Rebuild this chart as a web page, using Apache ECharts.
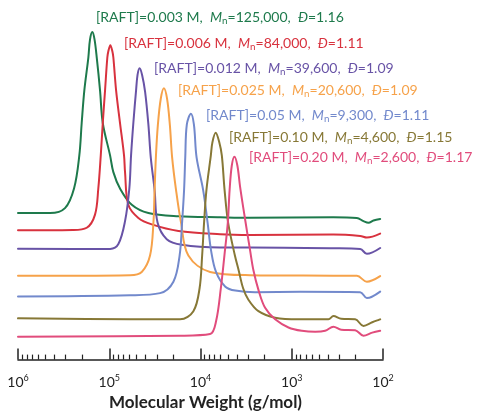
<!DOCTYPE html>
<html>
<head>
<meta charset="utf-8">
<script src="https://cdn.jsdelivr.net/npm/echarts@6/dist/echarts.min.js"></script>
<style>
html,body{margin:0;padding:0;background:#fff;}
#chart{width:477px;height:416px;}
</style>
</head>
<body>
<div id="chart"></div>
<script>
// x values: log10(Molecular Weight, g/mol); y values: detector signal incl. vertical offset
const logMW1 = [6.00, 5.649, 5.485, 5.386, 5.328, 5.302, 5.273, 5.229, 5.211, 5.185, 5.161, 5.137, 5.101, 5.071, 4.991, 4.955, 4.882, 4.753, 4.571, 4.242, 3.785, 3.456, 2.546, 2.286, 2.214, 2.159, 2.104, 2.031];
const signal1 = [149.3, 149.3, 154.3, 174.3, 208, 241, 274.3, 307.7, 326, 333.7, 326, 307.7, 274.3, 241, 208, 191, 174.3, 157.7, 149.3, 146, 145, 144.5, 145, 144.3, 141, 139.3, 141.7, 143.3];

const logMW2 = [6.00, 5.40, 5.247, 5.156, 5.120, 5.093, 5.071, 5.046, 5.021, 5.010, 4.988, 4.966, 4.955, 4.925, 4.882, 4.838, 4.827, 4.791, 4.681, 4.534, 4.242, 3.785, 3.456, 2.546, 2.250, 2.177, 2.031];
const signal2 = [131.7, 132, 134.3, 147.7, 174.3, 208, 241, 274.3, 307.7, 314, 320.3, 314, 307.7, 274.3, 241, 208, 191, 157.7, 144.3, 137.7, 131, 127.7, 127, 127.5, 126, 124.3, 128.3];

const logMW3 = [6.00, 4.991, 4.900, 4.827, 4.780, 4.761, 4.736, 4.706, 4.690, 4.668, 4.640, 4.607, 4.571, 4.545, 4.503, 4.470, 4.370, 4.205, 3.785, 3.456, 2.546, 2.250, 2.177, 2.031];
const signal3 = [113, 112.7, 117.7, 141, 174.3, 208, 241, 274.3, 290, 296.8, 290, 272.7, 239.3, 206, 172.7, 139.3, 122.7, 117, 114.3, 114.3, 113.5, 112.7, 107.7, 113.7];

const logMW4 = [6.00, 4.772, 4.644, 4.553, 4.516, 4.503, 4.489, 4.467, 4.435, 4.401, 4.367, 4.336, 4.311, 4.268, 4.213, 4.133, 3.895, 3.456, 2.546, 2.286, 2.177, 2.031];
const signal4 = [85.3, 86, 89.3, 106, 139.3, 172.7, 206, 239.3, 266, 276.5, 266, 239.3, 206, 172.7, 139.3, 106, 89.3, 86, 85.5, 85.3, 79.3, 85];

const logMW5 = [6.00, 4.772, 4.443, 4.297, 4.229, 4.202, 4.180, 4.167, 4.150, 4.105, 4.072, 4.043, 3.971, 3.922, 3.884, 3.829, 3.728, 3.618, 3.401, 2.904, 2.250, 2.177, 2.031];
const signal5 = [64.3, 65.5, 67.7, 79.3, 106, 139.3, 172.7, 206, 239.3, 250.5, 239.3, 206, 172.7, 139.3, 111, 89, 74.3, 70.3, 68.7, 69, 68.7, 62.7, 69.3];

const logMW6 = [6.00, 4.772, 4.224, 4.078, 4.010, 3.982, 3.961, 3.935, 3.887, 3.870, 3.834, 3.793, 3.766, 3.736, 3.697, 3.623, 3.582, 3.533, 3.475, 3.365, 3.182, 2.927, 2.598, 2.543, 2.458, 2.305, 2.214, 2.118, 2.031];
const signal6 = [42, 41, 41, 49.3, 72.7, 106, 139.3, 172.7, 207.7, 221, 231, 221, 207.7, 172.7, 139.3, 106, 91, 72.7, 61, 49.3, 42.7, 41, 41, 44.3, 41.5, 41, 34.3, 38, 41];

const logMW7 = [6.00, 4.224, 3.895, 3.829, 3.777, 3.738, 3.701, 3.681, 3.657, 3.628, 3.596, 3.566, 3.511, 3.456, 3.420, 3.365, 3.292, 3.182, 3.036, 2.889, 2.743, 2.634, 2.543, 2.458, 2.305, 2.214, 2.118, 2.031];
const signal7 = [23.3, 24.3, 26, 39.3, 72.7, 106, 139.3, 172.7, 197.7, 206.7, 197.7, 176, 142.7, 111, 91, 71, 52.7, 41, 32.7, 29.3, 28.3, 29.3, 33.5, 30.5, 30, 24.3, 27.5, 29.3];

const raftConc = ['0.003', '0.006', '0.012', '0.025', '0.05', '0.10', '0.20'];
const mnValues = ['125,000', '84,000', '39,600', '20,600', '9,300', '4,600', '2,600'];
const dispersity = ['1.16', '1.11', '1.09', '1.09', '1.11', '1.15', '1.17'];

const decadeTicks = [2, 3, 4, 5, 6];
const minorMultipliers = [2, 3, 4, 5, 6, 7, 8, 9];
const axisTitle = 'Molecular Weight (g/mol)';

const colors = ['#1e7a4c', '#d8323e', '#6853a6', '#f6a24a', '#7289cc', '#877836', '#e14c7c'];
// label boxes in pixels: left edge, vertical centre, and width seen in the reference
const labelPos = [[96, 17], [124, 43], [154, 68], [178, 90], [206, 115], [229, 137], [249, 157]];
const labelWidth = [250, 241, 242, 241, 224, 225, 217];

const xs = [logMW1, logMW2, logMW3, logMW4, logMW5, logMW6, logMW7];
const ys = [signal1, signal2, signal3, signal4, signal5, signal6, signal7];

const minorVals = [];
decadeTicks.slice(0, -1).forEach(d => minorMultipliers.forEach(m => minorVals.push(Math.log10(m * Math.pow(10, d)))));

const FONT = 'Lato';
const LFONT = 'Lato';
const SUB = 0.7;

// fit the annotation font size to the widths seen in the reference
const cv = document.createElement('canvas').getContext('2d');
function w100(i) {
  let w = 0;
  cv.font = `100px ${LFONT}`;
  w += cv.measureText(`[RAFT]=${raftConc[i]} M,  `).width;
  w += cv.measureText(`=${mnValues[i]},  `).width;
  w += cv.measureText(`=${dispersity[i]}`).width;
  cv.font = `italic 100px ${LFONT}`;
  w += cv.measureText('M').width + cv.measureText('Đ').width;
  cv.font = `${100 * SUB}px ${LFONT}`;
  w += cv.measureText('n').width;
  return w;
}
let fsSum = 0;
raftConc.forEach((c, i) => { fsSum += labelWidth[i] / w100(i) * 100; });
const LFS = Math.max(11, Math.min(15, fsSum / raftConc.length));

const chart = echarts.init(document.getElementById('chart'), null, {renderer: 'canvas'});

const series = xs.map((x, i) => ({
  type: 'line',
  xAxisIndex: 0,
  data: x.map((v, j) => [v, ys[i][j]]),
  showSymbol: false,
  smooth: 0.35,
  lineStyle: {color: colors[i], width: 2, join: 'round', cap: 'round'},
  itemStyle: {color: colors[i]},
  z: 2 + i,
  silent: true
}));

const graphics = raftConc.map((c, i) => ({
  type: 'text',
  x: labelPos[i][0],
  y: labelPos[i][1],
  style: {
    text: `{a|[RAFT]=${c} M,  }{i|M}{s|n}{a|=${mnValues[i]},  }{i|Đ}{a|=${dispersity[i]}}`,
    verticalAlign: 'middle',
    rich: {
      a: {fontFamily: LFONT, fontSize: LFS, fill: colors[i]},
      i: {fontFamily: LFONT, fontSize: LFS, fontStyle: 'italic', fill: colors[i]},
      s: {fontFamily: LFONT, fontSize: LFS * SUB, fill: colors[i], padding: [Math.round(LFS * 0.6), 0, 0, 0]}
    }
  },
  z: 100
}));

chart.setOption({
  animation: false,
  grid: {left: 18, right: 94, top: 16, bottom: 50, containLabel: false},
  xAxis: [{
    type: 'value', min: 2, max: 6, interval: 1, inverse: true,
    axisLine: {show: true, lineStyle: {color: '#222', width: 1.6}},
    axisTick: {show: true, inside: true, length: 11, lineStyle: {color: '#222', width: 1.5}},
    splitLine: {show: false},
    axisLabel: {
      margin: 14,
      formatter: v => `{b|10}{sup|${v}}`,
      rich: {
        b: {fontFamily: FONT, fontSize: 14, color: '#222'},
        sup: {fontFamily: FONT, fontSize: 9, color: '#222', padding: [0, 0, 8, 0]}
      }
    },
    name: axisTitle,
    nameLocation: 'middle',
    nameGap: 33,
    nameTextStyle: {fontFamily: FONT, fontSize: 17, fontWeight: 'bold', color: '#222', padding: [0, 0, 0, 10]}
  }, {
    type: 'value', min: 2, max: 6, inverse: true, position: 'bottom',
    axisLine: {show: false},
    axisTick: {show: true, inside: true, length: 5, customValues: minorVals, lineStyle: {color: '#222', width: 1.2}},
    axisLabel: {show: false},
    splitLine: {show: false}
  }],
  yAxis: {type: 'value', min: 0, max: 350, show: false},
  series: series,
  graphic: graphics
});
</script>
</body>
</html>
